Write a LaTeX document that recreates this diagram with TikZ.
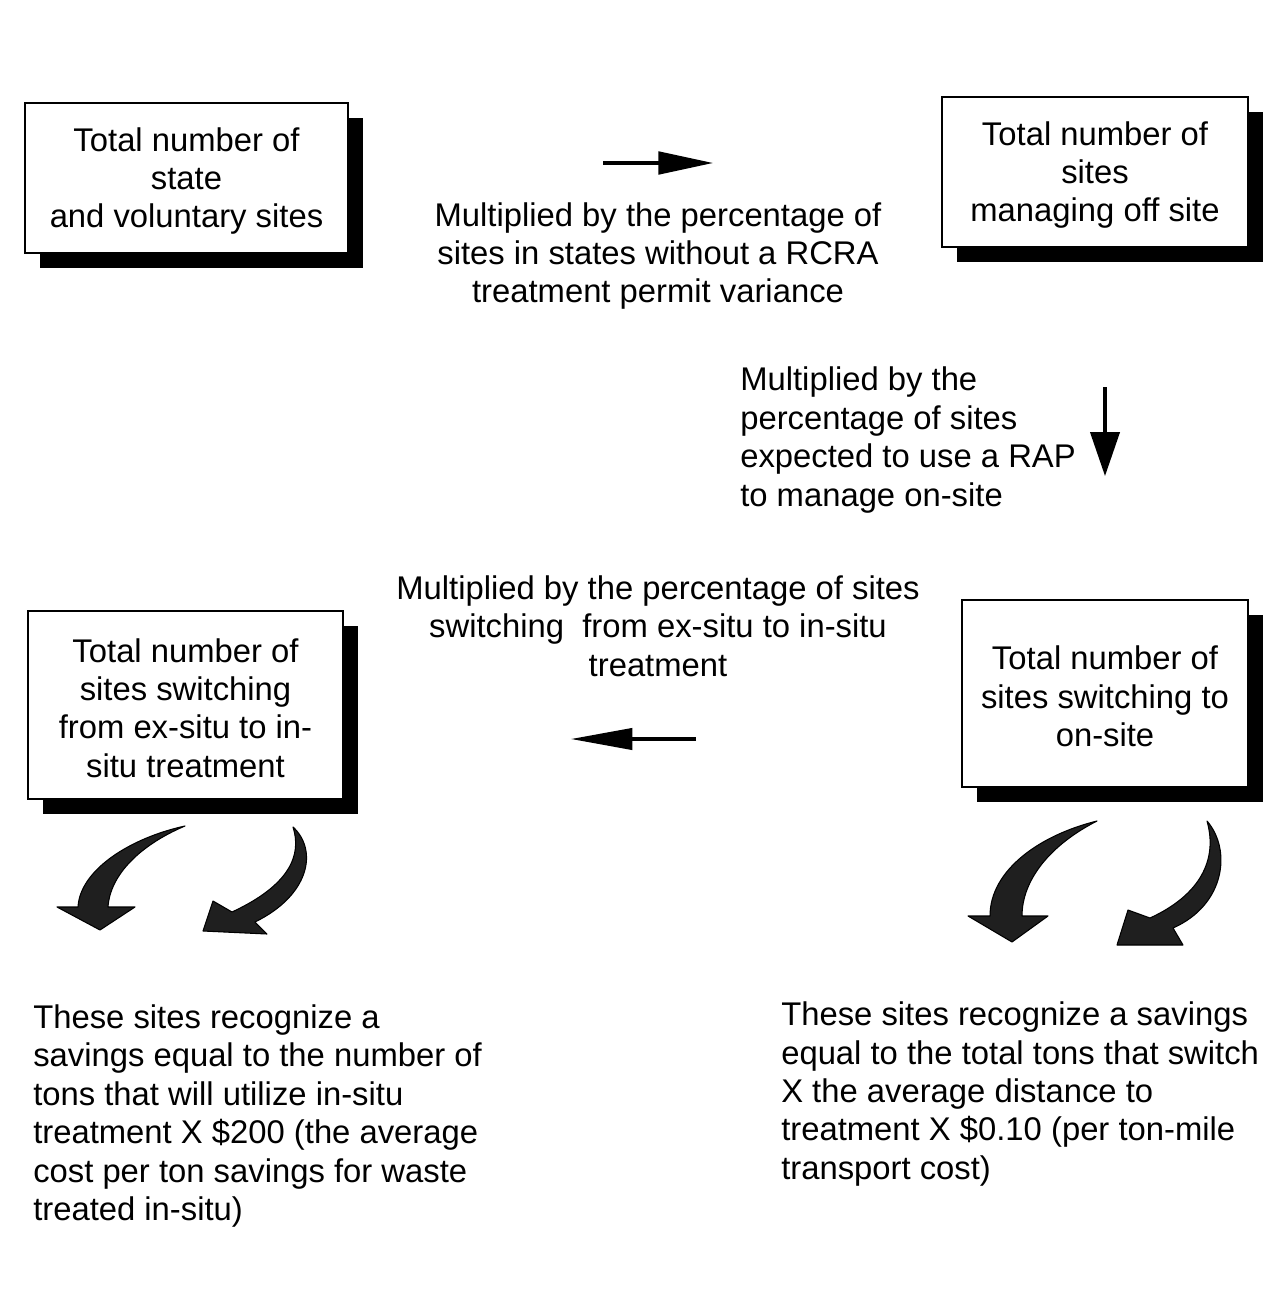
\documentclass[tikz,border=0pt]{standalone}
\usepackage{xcolor}
\usepackage{fontspec}
\setmainfont{Liberation Sans}
\usepackage{tikz}
\usetikzlibrary{arrows.meta,shadows}

\newcommand{\boxtop}{\rule{0pt}{22.4pt}}

\tikzset{
  sitebox/.style={draw, line width=1.5pt, fill=white, align=center, inner sep=0pt,
    drop shadow={shadow xshift=11.25pt, shadow yshift=-11.25pt, opacity=1, fill=black}},
  steptext/.style={align=center, inner sep=0pt},
  notetext/.style={align=left, inner sep=0pt, anchor=west},
  flowarrow/.style={line width=2.3pt},
  swoosh/.style={fill=black!88, draw=black, line width=0.8pt, line join=round}
}

\begin{document}
\begin{tikzpicture}[x=0.75pt, y=-0.75pt]
\useasboundingbox (0,0) rectangle (1279,1291);
\fontsize{24.6}{28.8}\selectfont

% the four boxes
\node[sitebox, minimum width=242pt, minimum height=112.5pt] (allsites) at (186.5,178)
  {\boxtop Total number of\\state\\and voluntary sites};
\node[sitebox, minimum width=229.5pt, minimum height=112.5pt] (offsite) at (1095,172)
  {\boxtop Total number of\\sites\\managing off site};
\node[sitebox, minimum width=214.5pt, minimum height=140pt] (onsite) at (1105,693.5)
  {\boxtop Total number of\\sites switching to\\on-site};
\node[sitebox, minimum width=236pt, minimum height=141pt] (insitu) at (185.5,705)
  {\boxtop Total number of\\sites switching\\from ex-situ to in-\\situ treatment};

% the factors
\node[steptext] (factorA) at (658,256)
  {Multiplied by the percentage of\\sites in states without a RCRA\\treatment permit variance};
\node[notetext] (factorB) at (740,440)
  {Multiplied by the\\percentage of sites\\expected to use a RAP\\to manage on-site};
\node[steptext] (factorC) at (658,626)
  {Multiplied by the percentage of sites\\switching\ \ from ex-situ to in-situ\\treatment};

% the savings
\node[notetext] (savingsA) at (33,1116)
  {These sites recognize a\\savings equal to the number of\\tons that will utilize in-situ\\treatment X \$200 (the average\\cost per ton savings for waste\\treated in-situ)};
\node[notetext] (savingsB) at (781,1094)
  {These sites recognize a savings\\equal to the total tons that switch\\X the average distance to\\treatment X \$0.10 (per ton-mile\\transport cost)};

% straight arrows
\coordinate (a1) at (603,163);
\coordinate (a2) at (713,163);
\coordinate (b1) at (1105,387);
\coordinate (b2) at (1105,476);
\coordinate (c1) at (696,739);
\coordinate (c2) at (571,739);
\draw[flowarrow, -{Triangle[length=41pt, width=17pt]}] (a1) -- (a2);
\draw[flowarrow, -{Triangle[length=33pt, width=22pt]}] (b1) -- (b2);
\draw[flowarrow, -{Triangle[length=46pt, width=16pt]}] (c1) -- (c2);

% curved arrows below the boxes
\draw[swoosh] (185,826) .. controls (130,838) and (80,870) .. (78,907) -- (57,907) -- (100,930)
  -- (135,907) -- (108,907) .. controls (110,875) and (140,845) .. cycle;
\draw[swoosh] (293,827) .. controls (318,850) and (310,895) .. (255,922) -- (267,934) -- (203,931)
  -- (213,901) -- (232,912) .. controls (290,885) and (302,855) .. cycle;
\draw[swoosh] (1097,821) .. controls (1040,835) and (990,870) .. (990,916) -- (968,916) -- (1012,942)
  -- (1048,916) -- (1022,916) .. controls (1022,880) and (1050,845) .. cycle;
\draw[swoosh] (1207,821) .. controls (1232,850) and (1225,905) .. (1173,928) -- (1183,945) -- (1117,945)
  -- (1128,910) -- (1150,918) .. controls (1200,895) and (1218,860) .. cycle;
\end{tikzpicture}
\end{document}
